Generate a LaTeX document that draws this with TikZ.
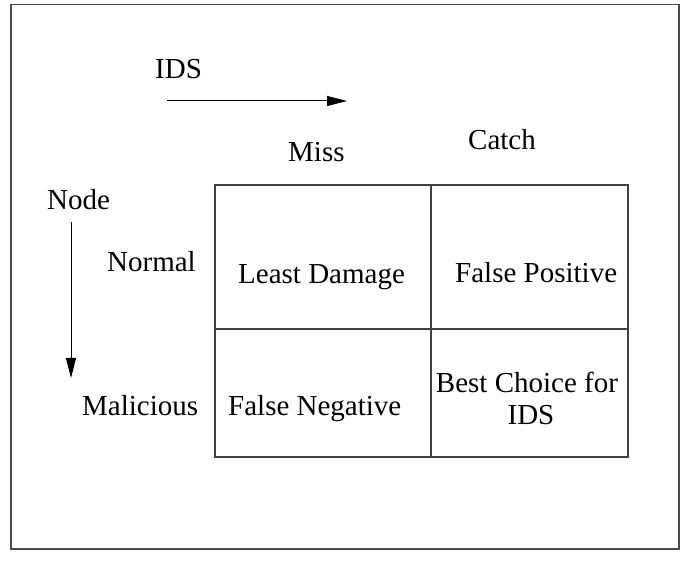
\documentclass[tikz,border=0pt]{standalone}
\usepackage{fontspec}
\setmainfont{Liberation Serif}
\usetikzlibrary{arrows.meta}
\begin{document}
\begin{tikzpicture}[x=1pt,y=-1pt,
  lbl/.style={anchor=base west,inner sep=0pt,font=\fontsize{29}{34}\selectfont},
  clbl/.style={anchor=base,inner sep=0pt,font=\fontsize{29}{34}\selectfont},
  cell/.style={draw=black!75,line width=1.1pt},
  axis/.style={draw=black,line width=1pt,-{Triangle[length=20pt,width=10pt]}}]
  \useasboundingbox (0,0) rectangle (683,569);
  % outer frame
  \draw[black!70,line width=1.6pt] (11,4.5) rectangle (679,549);
  % 2x2 outcome table
  \coordinate (tl) at (215,185);
  \coordinate (br) at (628,457);
  \coordinate (tm) at (431,185);
  \coordinate (bm) at (431,457);
  \coordinate (ml) at (215,329);
  \coordinate (mr) at (628,329);
  \draw[cell] (tl) rectangle (br);
  \draw[cell] (tm) -- (bm);
  \draw[cell] (ml) -- (mr);
  % axis labels and arrows
  \node[lbl] (ids) at (155,79) {IDS};
  \coordinate (idsA) at (167,101);
  \coordinate (idsB) at (347,101);
  \draw[axis] (idsA) -- (idsB);
  \node[lbl] (node) at (47,210) {Node};
  \coordinate (nodeA) at (71,222);
  \coordinate (nodeB) at (71,378);
  \draw[axis] (nodeA) -- (nodeB);
  % column and row headings
  \node[lbl] (miss) at (288,162) {Miss};
  \node[lbl] (catch) at (468,150) {Catch};
  \node[lbl] (normal) at (107,272) {Normal};
  \node[lbl] (malicious) at (82,415) {Malicious};
  % cell contents
  \node[lbl] (least) at (238,284) {Least Damage};
  \node[lbl] (fpos) at (455,283) {False Positive};
  \node[lbl] (fneg) at (228,415) {False Negative};
  \node[clbl] (best) at (527,392) {Best Choice for};
  \node[clbl] (best2) at (531,424) {IDS};
\end{tikzpicture}
\end{document}
